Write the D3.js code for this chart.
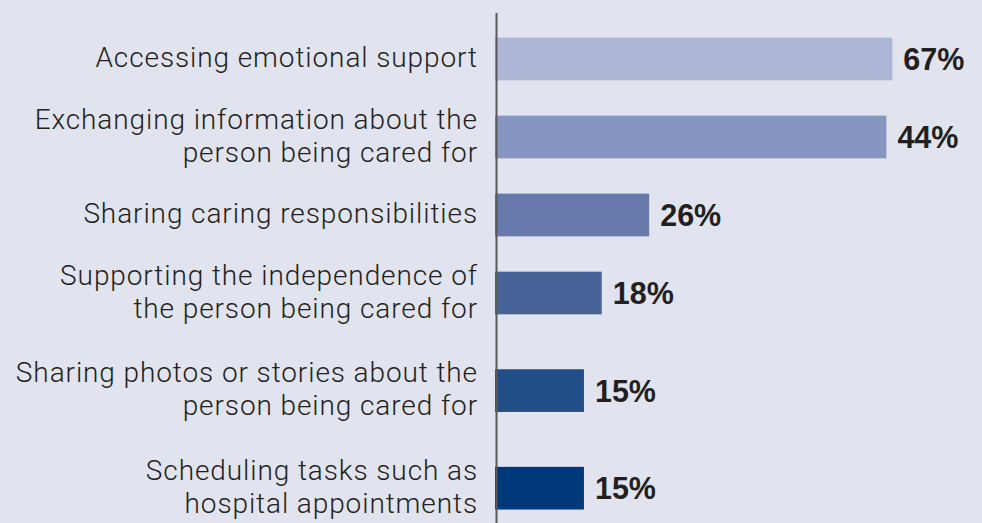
<!DOCTYPE html>
<html>
<head>
<meta charset="utf-8">
<script src="https://cdn.jsdelivr.net/npm/d3@7"></script>
<style>
    html, body { margin: 0; padding: 0; background: #e1e3ef; }
    svg { display: block; }
    .cat-label { font-family: Roboto, "Liberation Sans", sans-serif; font-weight: 300; fill: #231f20; letter-spacing: 0.9px; }
    .val-label { font-family: "Liberation Sans", Arial, sans-serif; font-weight: bold; fill: #231f20; }
</style>
</head>
<body>
<svg id="chart"></svg>
<script>
const categories = [
    "Accessing emotional support",
    "Exchanging information about the\nperson being cared for",
    "Sharing caring responsibilities",
    "Supporting the independence of\nthe person being cared for",
    "Sharing photos or stories about the\nperson being cared for",
    "Scheduling tasks such as\nhospital appointments"
];
// printed values
const valueLabels = ["67%", "44%", "26%", "18%", "15%", "15%"];
// bar lengths (second bar is drawn far longer than its 44% label)
const barValues = [67, 66, 26, 18, 15, 15];
const barColors = ["#adb6d4", "#8796c0", "#677aab", "#466497", "#224e88", "#00397a"];

const width = 982, height = 523;
const axisX = 495;

const svg = d3.select("#chart")
    .attr("width", width)
    .attr("height", height);

svg.append("rect")
    .attr("width", width)
    .attr("height", height)
    .attr("fill", "#e1e3ef");

const x = d3.scaleLinear()
    .domain([0, 100])
    .range([axisX, axisX + 593]);

// rows get taller when the label wraps onto two lines
const rowUnit = 39.2, rowPad = 19.2, rowTop = 29.8;
const lineCounts = categories.map(c => c.split("\n").length);
const rowHeights = lineCounts.map(n => n * rowUnit + rowPad);
const rowCenters = [];
let acc = rowTop;
rowHeights.forEach(h => {
    rowCenters.push(acc + h / 2);
    acc += h;
});

const barHeight = 42.7;

svg.append("g")
    .selectAll("rect")
    .data(barValues)
    .enter().append("rect")
    .attr("x", x(0))
    .attr("y", (d, i) => rowCenters[i] - barHeight / 2)
    .attr("width", d => x(d) - x(0))
    .attr("height", barHeight)
    .attr("fill", (d, i) => barColors[i]);

svg.append("line")
    .attr("x1", axisX + 1.5)
    .attr("x2", axisX + 1.5)
    .attr("y1", 13)
    .attr("y2", height)
    .attr("stroke", "#5a5a5c")
    .attr("stroke-width", 2);

const lineGap = 33;
const catText = svg.append("g")
    .selectAll("text")
    .data(categories)
    .enter().append("text")
    .attr("class", "cat-label")
    .attr("text-anchor", "end")
    .attr("font-size", 28);

catText.each(function (d, i) {
    const lines = d.split("\n");
    const y0 = rowCenters[i] - 1.5 - (lines.length - 1) * lineGap / 2;
    d3.select(this).selectAll("tspan")
        .data(lines)
        .enter().append("tspan")
        .attr("x", 478)
        .attr("y", (l, j) => y0 + j * lineGap)
        .attr("dy", "0.35em")
        .text(l => l);
});

svg.append("g")
    .selectAll("text")
    .data(barValues)
    .enter().append("text")
    .attr("class", "val-label")
    .attr("x", d => x(d) + 11)
    .attr("y", (d, i) => rowCenters[i])
    .attr("dy", "0.36em")
    .attr("font-size", 30.5)
    .text((d, i) => valueLabels[i]);
</script>
</body>
</html>
